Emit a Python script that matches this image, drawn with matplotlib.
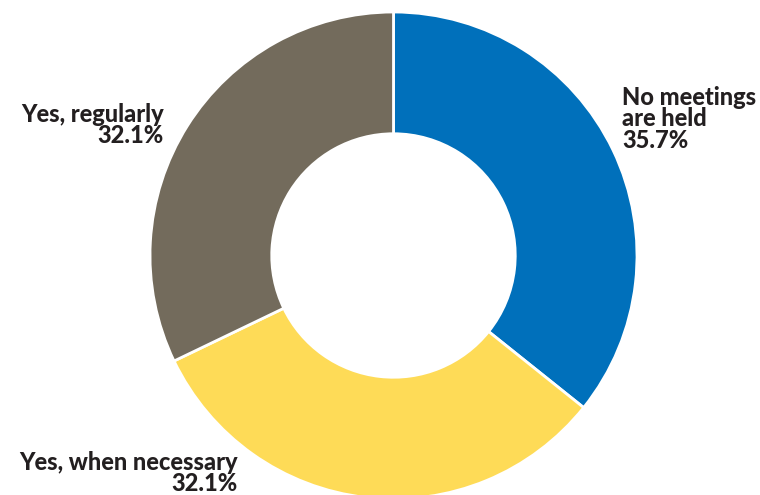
import matplotlib
matplotlib.use('Agg')
import matplotlib.pyplot as plt

# Survey answers
labels = ['No meetings\nare held', 'Yes, when necessary', 'Yes, regularly']
shares = [35.7, 32.1, 32.1]
colors = ['#0070BB', '#FEDB57', '#736B5C']

W, H = 760, 495
fig = plt.figure(figsize=(W / 100, H / 100), dpi=100)

# donut placed in pixel units: centre (393.5, 255.5), radius 243.5
cx, cy, r = 393.5, 255.5, 243.5
ax = fig.add_axes([(cx - r) / W, (H - cy - r) / H, 2 * r / W, 2 * r / H])
ax.pie(shares, colors=colors, startangle=90, counterclock=False,
       radius=1.0, wedgeprops=dict(width=0.5, edgecolor='white', linewidth=2))
ax.set_xlim(-1, 1)
ax.set_ylim(-1, 1)
ax.set_aspect('equal')
ax.axis('off')

txt = dict(fontsize=17, fontweight='black', color='#231F20', family='Lato',
           linespacing=0.92, va='top')

def px(x, y):
    return x / W, 1 - y / H

fig.text(*px(622, 86), f'{labels[0]}\n{shares[0]:.1f}%', ha='left', ma='left', **txt)
fig.text(*px(164, 103), f'{labels[2]}\n{shares[2]:.1f}%', ha='right', ma='right', **txt)
fig.text(*px(238, 451), f'{labels[1]}\n{shares[1]:.1f}%', ha='right', ma='right', **txt)

fig.savefig('out.png', dpi=100)
